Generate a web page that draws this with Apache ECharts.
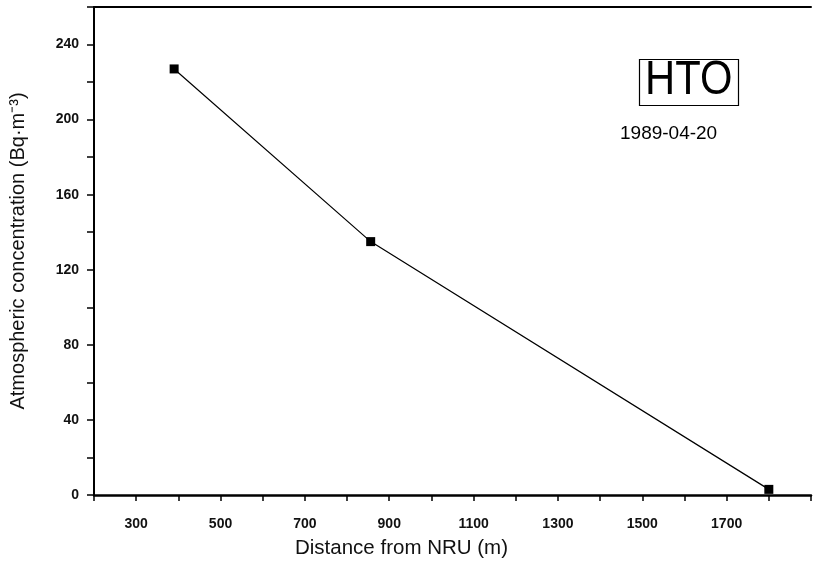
<!DOCTYPE html>
<html>
<head>
<meta charset="utf-8">
<script src="https://cdn.jsdelivr.net/npm/echarts@6/dist/echarts.min.js"></script>
<style>
  html, body { margin: 0; padding: 0; background: #fff; overflow: hidden; }
  #chart { width: 814px; height: 574px; }
</style>
</head>
<body>
<div id="chart"></div>
<script>
// Distance from the NRU stack (m) and measured HTO concentration (Bq·m⁻³)
const distances = [390, 856, 1800];
const concentrations = [227, 135, 3];

// Axis ranges and label settings
const xRange = { min: 200, max: 1900, step: 100 };
const yRange = { min: 0, max: 260, step: 20 };
const xLabelEvery = 200;   // labels on 300, 500, ... 1700
const yLabelEvery = 40;    // labels on 0, 40, ... 240

const xTitle = 'Distance from NRU (m)';
const yTitle = 'Atmospheric concentration (Bq·m⁻³)';
const species = 'HTO';
const sampleDate = '1989-04-20';

const points = distances.map((d, i) => [d, concentrations[i]]);

const FONT = '"Liberation Sans", Arial, Helvetica, sans-serif';
const chart = echarts.init(document.getElementById('chart'));

chart.setOption({
  animation: false,
  backgroundColor: '#ffffff',
  grid: { left: 94, right: 2, top: 7, bottom: 79, containLabel: false },
  xAxis: [
    {
      type: 'value',
      min: xRange.min,
      max: xRange.max,
      interval: xRange.step,
      name: xTitle,
      nameLocation: 'middle',
      nameGap: 43,
      nameTextStyle: {
        fontFamily: FONT, fontSize: 20.5, color: '#111',
        padding: [0, 102, 0, 0]
      },
      axisLine: { show: true, onZero: false, lineStyle: { color: '#000', width: 2.5 } },
      axisTick: { show: true, inside: false, length: 6, lineStyle: { color: '#000', width: 1.5 } },
      axisLabel: {
        margin: 22,
        fontFamily: FONT, fontSize: 14, fontWeight: 'bold', color: '#111',
        formatter: v => (v < xRange.max && (v - xRange.min) % xLabelEvery === xRange.step ? String(v) : '')
      },
      splitLine: { show: false }
    },
    {
      type: 'value',
      position: 'top',
      min: xRange.min,
      max: xRange.max,
      axisLine: { show: true, onZero: false, lineStyle: { color: '#000', width: 2 } },
      axisTick: { show: false },
      axisLabel: { show: false },
      splitLine: { show: false }
    }
  ],
  yAxis: {
    type: 'value',
    min: yRange.min,
    max: yRange.max,
    interval: yRange.step,
    name: yTitle,
    nameLocation: 'middle',
    nameGap: 66,
    nameTextStyle: { fontFamily: FONT, fontSize: 20, color: '#111', padding: [0, 0, 0, 0] },
    axisLine: { show: true, onZero: false, lineStyle: { color: '#000', width: 2 } },
    axisTick: { show: true, inside: false, length: 7, lineStyle: { color: '#000', width: 1.5 } },
    axisLabel: {
      margin: 15,
      fontFamily: FONT, fontSize: 14, fontWeight: 'bold', color: '#111',
      formatter: v => (v % yLabelEvery === 0 ? String(v) : '')
    },
    splitLine: { show: false }
  },
  series: [
    {
      type: 'line',
      data: points,
      xAxisIndex: 0,
      symbol: 'rect',
      symbolSize: 9,
      showAllSymbol: true,
      lineStyle: { color: '#000', width: 1.2 },
      itemStyle: { color: '#000', borderWidth: 0 },
      emphasis: { disabled: true },
      z: 3
    }
  ],
  graphic: [
    {
      type: 'rect',
      left: 637,
      top: 57,
      shape: { width: 99, height: 46 },
      style: { fill: 'none', stroke: '#000', lineWidth: 1.2 }
    },
    {
      type: 'text',
      x: 645,
      y: 81,
      scaleX: 0.87,
      style: {
        text: species,
        fontFamily: FONT,
        fontSize: 48,
        fill: '#000',
        textVerticalAlign: 'middle',
        verticalAlign: 'middle'
      }
    },
    {
      type: 'text',
      left: 620,
      top: 124,
      style: {
        text: sampleDate,
        fontFamily: FONT,
        fontSize: 19,
        fill: '#000'
      }
    }
  ]
});
</script>
</body>
</html>
